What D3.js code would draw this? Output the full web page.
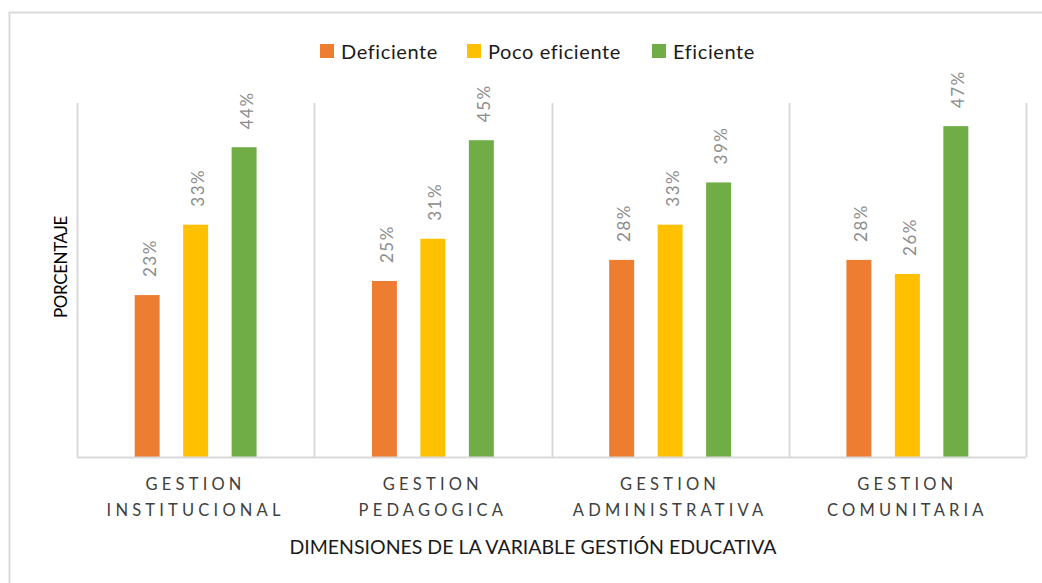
<!DOCTYPE html>
<html>
<head>
<meta charset="utf-8">
<script src="https://cdn.jsdelivr.net/npm/d3@7"></script>
<style>
  body { margin: 0; background: #fff; }
  svg { display: block; font-family: Lato, "Open Sans", sans-serif; }
</style>
</head>
<body>
<svg id="chart" width="1042" height="583"></svg>
<script>
var categories = ["GESTION INSTITUCIONAL", "GESTION PEDAGOGICA", "GESTION ADMINISTRATIVA", "GESTION COMUNITARIA"],
  series = ["Deficiente", "Poco eficiente", "Eficiente"],
  deficiente = [23, 25, 28, 28],
  pocoEficiente = [33, 31, 33, 26],
  eficiente = [44, 45, 39, 47],
  colors = ["#ED7D31", "#FFC000", "#70AD47"];

var values = [deficiente, pocoEficiente, eficiente];

var svg = d3.select("#chart"),
  margin = {top: 105, left: 77, right: 16, bottom: 126},
  width = +svg.attr("width"),
  height = +svg.attr("height");

var x0 = d3.scaleBand()
  .domain(categories)
  .range([margin.left, width - margin.right])
  .padding(0);

var x1 = d3.scaleBand()
  .domain(series)
  .range([0, x0.bandwidth()])
  .paddingInner(0.485)
  .paddingOuter(1.19);

var y = d3.scaleLinear()
  .domain([0, 50])
  .range([height - margin.bottom, margin.top]);

var color = d3.scaleOrdinal().domain(series).range(colors);

// outer chart border (only top/left visible in the picture)
svg.append("rect")
  .attr("x", 9.5).attr("y", 12.5)
  .attr("width", 1100).attr("height", 700)
  .attr("fill", "none")
  .attr("stroke", "#D9D9D9")
  .attr("stroke-width", 2);

// separators between categories
var bounds = categories.map(function (c) { return x0(c); }).concat([x0.range()[1]]);
svg.append("g")
  .selectAll("line")
  .data(bounds)
  .join("line")
    .attr("x1", function (d) { return Math.round(d) + 0.5; })
    .attr("x2", function (d) { return Math.round(d) + 0.5; })
    .attr("y1", y(50) - 2)
    .attr("y2", y(0))
    .attr("stroke", "#D9D9D9")
    .attr("stroke-width", 2);

// bars
var groups = svg.append("g")
  .selectAll("g")
  .data(categories)
  .join("g")
    .attr("transform", function (c) { return "translate(" + x0(c) + ",0)"; });

groups.selectAll("rect")
  .data(function (c, i) {
    return series.map(function (s, j) { return {key: s, value: values[j][i]}; });
  })
  .join("rect")
    .attr("x", function (d) { return x1(d.key); })
    .attr("y", function (d) { return y(d.value); })
    .attr("width", x1.bandwidth())
    .attr("height", function (d) { return y(0) - y(d.value); })
    .attr("fill", function (d) { return color(d.key); });

// value labels (rotated)
groups.selectAll("text")
  .data(function (c, i) {
    return series.map(function (s, j) { return {key: s, value: values[j][i]}; });
  })
  .join("text")
    .attr("transform", function (d) {
      return "translate(" + (x1(d.key) + x1.bandwidth() / 2 + 2) + "," + (y(d.value) - 18) + ") rotate(-90)";
    })
    .attr("dominant-baseline", "central")
    .attr("text-anchor", "start")
    .attr("fill", "#8C8C8C")
    .attr("font-size", 17)
    .attr("letter-spacing", 1.5)
    .text(function (d) { return d.value + "%"; });

// baseline
svg.append("line")
  .attr("x1", x0.range()[0]).attr("x2", x0.range()[1])
  .attr("y1", y(0) + 0.5).attr("y2", y(0) + 0.5)
  .attr("stroke", "#D9D9D9")
  .attr("stroke-width", 2);

// category labels, two lines, spaced out
var catLabels = svg.append("g")
  .selectAll("text")
  .data(categories)
  .join("text")
    .attr("x", function (c) { return x0(c) + x0.bandwidth() / 2; })
    .attr("y", y(0) + 33)
    .attr("text-anchor", "middle")
    .attr("fill", "#404040")
    .attr("font-size", 16.5)
    .attr("letter-spacing", 4.2);

catLabels.selectAll("tspan")
  .data(function (c) { return c.split(" "); })
  .join("tspan")
    .attr("x", function () { return d3.select(this.parentNode).attr("x"); })
    .attr("dy", function (d, i) { return i ? 26 : 0; })
    .text(function (d) { return d; });

// axis titles
svg.append("text")
  .attr("x", 533)
  .attr("y", 554)
  .attr("text-anchor", "middle")
  .attr("fill", "#1a1a1a")
  .attr("font-size", 19.5)
  .text("DIMENSIONES DE LA VARIABLE GESTIÓN EDUCATIVA");

svg.append("text")
  .attr("transform", "translate(67,267) rotate(-90)")
  .attr("text-anchor", "middle")
  .attr("fill", "#000")
  .attr("font-size", 17)
  .attr("letter-spacing", -0.4)
  .text("PORCENTAJE");

// legend
var legendX = [320, 467, 652];
var legend = svg.append("g")
  .selectAll("g")
  .data(series)
  .join("g")
    .attr("transform", function (d, i) { return "translate(" + legendX[i] + ",51)"; });

legend.append("rect")
  .attr("x", 0).attr("y", -7)
  .attr("width", 14).attr("height", 14)
  .attr("fill", function (d) { return color(d); });

legend.append("text")
  .attr("x", 21)
  .attr("dominant-baseline", "central")
  .attr("fill", "#1a1a1a")
  .attr("font-size", 20)
  .attr("letter-spacing", 0.6)
  .text(function (d) { return d; });
</script>
</body>
</html>
